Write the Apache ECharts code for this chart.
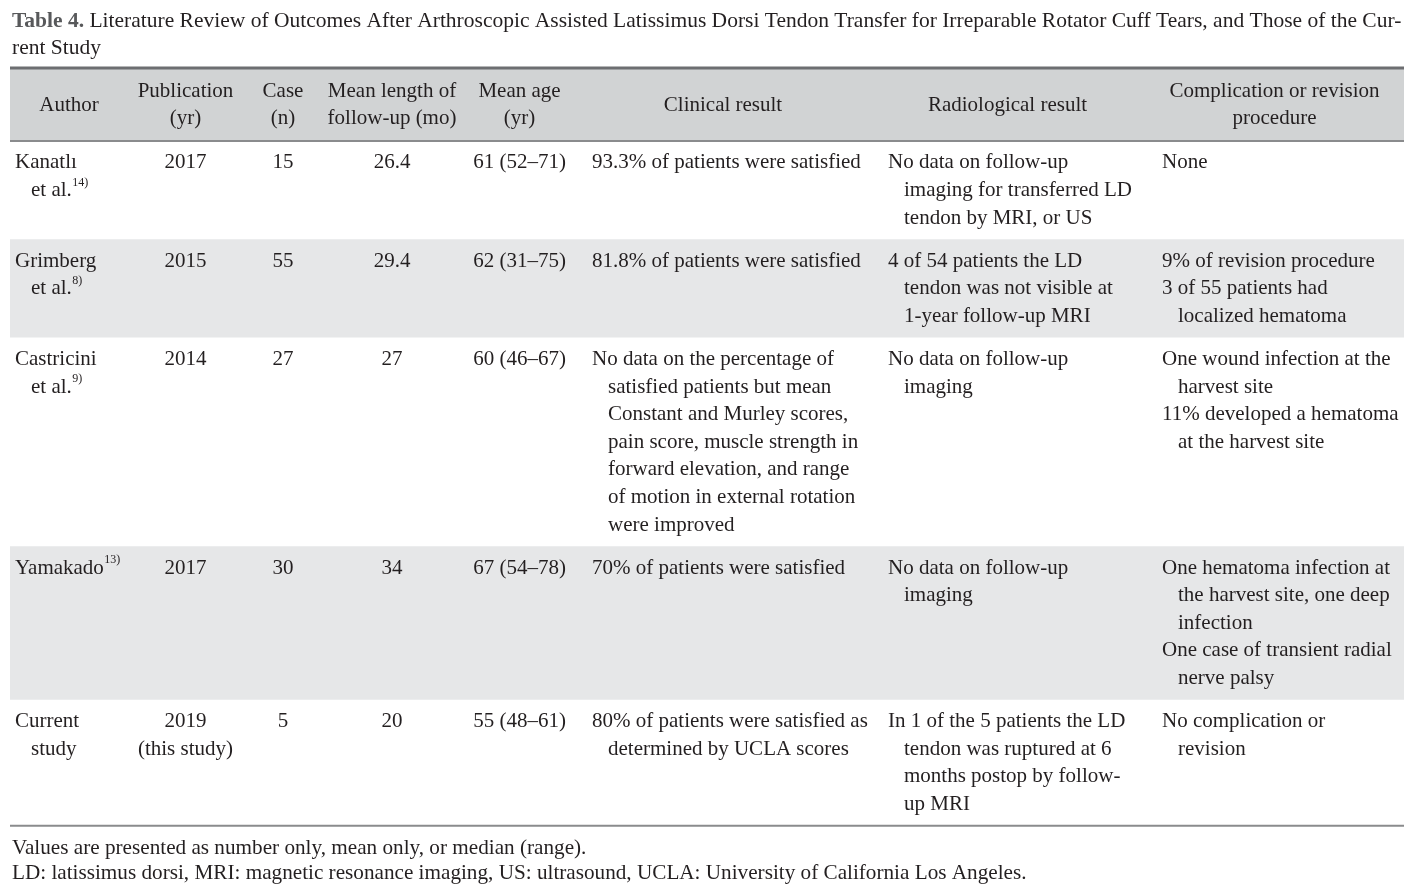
<!DOCTYPE html>
<html><head><meta charset="utf-8">
<script src="https://cdn.jsdelivr.net/npm/echarts@6/dist/echarts.min.js"></script>
<style>html,body{margin:0;padding:0;background:#fff}#c{width:1424px;height:893px}</style>
</head><body><div id="c"></div>
<script>
// ---------------- DATA ----------------
const titleBold = 'Table 4.';
const titleLines = [
  ' Literature Review of Outcomes After Arthroscopic Assisted Latissimus Dorsi Tendon Transfer for Irreparable Rotator Cuff Tears, and Those of the Cur-',
  'rent Study'
];
const headers = ['Author', 'Publication\n(yr)', 'Case\n(n)', 'Mean length of\nfollow-up (mo)', 'Mean age\n(yr)', 'Clinical result', 'Radiological result', 'Complication or revision\nprocedure'];
const authors = ['Kanatlı\net al.', 'Grimberg\net al.', 'Castricini\net al.', 'Yamakado', 'Current\nstudy'];
const refs = ['14)', '8)', '9)', '13)', ''];
const years = ['2017', '2015', '2014', '2017', '2019\n(this study)'];
const cases = ['15', '55', '27', '30', '5'];
const followUp = ['26.4', '29.4', '27', '34', '20'];
const meanAge = ['61 (52–71)', '62 (31–75)', '60 (46–67)', '67 (54–78)', '55 (48–61)'];
const clinical = [
  ['93.3% of patients were satisfied'],
  ['81.8% of patients were satisfied'],
  ['No data on the percentage of\nsatisfied patients but mean\nConstant and Murley scores,\npain score, muscle strength in\nforward elevation, and range\nof motion in external rotation\nwere improved'],
  ['70% of patients were satisfied'],
  ['80% of patients were satisfied as\ndetermined by UCLA scores']
];
const radiological = [
  ['No data on follow-up\nimaging for transferred LD\ntendon by MRI, or US'],
  ['4 of 54 patients the LD\ntendon was not visible at\n1-year follow-up MRI'],
  ['No data on follow-up\nimaging'],
  ['No data on follow-up\nimaging'],
  ['In 1 of the 5 patients the LD\ntendon was ruptured at 6\nmonths postop by follow-\nup MRI']
];
const complications = [
  ['None'],
  ['9% of revision procedure', '3 of 55 patients had\nlocalized hematoma'],
  ['One wound infection at the\nharvest site', '11% developed a hematoma\nat the harvest site'],
  ['One hematoma infection at\nthe harvest site, one deep\ninfection', 'One case of transient radial\nnerve palsy'],
  ['No complication or\nrevision']
];
const notes = [
  'Values are presented as number only, mean only, or median (range).',
  'LD: latissimus dorsi, MRI: magnetic resonance imaging, US: ultrasound, UCLA: University of California Los Angeles.'
];

// ---------------- LAYOUT / STYLE ----------------
const FONT = '"Liberation Serif", "Times New Roman", serif';
const FS = 21;
const TITLE_FS = 21.5;
const NOTE_FS = 21.2;
const TXT = '#231f20';
const colEdges = [12, 126, 245, 321, 463, 576, 870, 1145, 1404];
const tableLeft = 10, tableRight = 1404;
const textLeft = [15, null, null, null, null, 592, 888, 1162];
const INDENT = 16;
const LINE_H = 27.6;
const ROW_PAD = 15.5;
const FIRST_OFF = 21.8;
const headTop = 68, headBottom = 141;

const measureCtx = document.createElement('canvas').getContext('2d');
function textW(t, size) { measureCtx.font = size + 'px ' + FONT; return measureCtx.measureText(t).width; }

function cellLines(r) {
  const cols = [];
  const aLines = authors[r].split('\n');
  cols.push(aLines.map((t, i) => ({ text: t, dx: i ? INDENT : 0, align: 'left', sup: i === aLines.length - 1 ? refs[r] : '' })));
  [years, cases, followUp, meanAge].forEach(arr => {
    cols.push(String(arr[r]).split('\n').map(t => ({ text: t, dx: 0, align: 'center' })));
  });
  [clinical, radiological, complications].forEach(arr => {
    const out = [];
    arr[r].forEach(p => p.split('\n').forEach((t, i) => out.push({ text: t, dx: i ? INDENT : 0, align: 'left' })));
    cols.push(out);
  });
  return cols;
}
const rowCells = authors.map((_, r) => cellLines(r));
const rowLineCounts = rowCells.map(c => Math.max(...c.map(x => x.length)));
const rowTops = [];
{ let y = headBottom; rowLineCounts.forEach(n => { rowTops.push(y); y += n * LINE_H + ROW_PAD; }); rowTops.push(y); }

function renderHeader(params, api) {
  const children = [];
  children.push({ type: 'rect', shape: { x: tableLeft, y: headTop, width: tableRight - tableLeft, height: headBottom - headTop }, style: { fill: '#d1d3d4' } });
  children.push({ type: 'rect', shape: { x: tableLeft, y: headTop - 1.5, width: tableRight - tableLeft, height: 3 }, style: { fill: '#6d6e71' } });
  children.push({ type: 'rect', shape: { x: tableLeft, y: headBottom - 1, width: tableRight - tableLeft, height: 2 }, style: { fill: '#8a8b8d' } });
  headers.forEach((h, c) => {
    const cx = (colEdges[c] + colEdges[c + 1]) / 2;
    const lines = h.split('\n');
    const mid = (headTop + headBottom) / 2 + 0.5;
    lines.forEach((t, i) => {
      const y = mid + (i - (lines.length - 1) / 2) * LINE_H;
      children.push({ type: 'text', x: cx, y: y, style: { text: t, fontSize: FS, fontFamily: FONT, fill: TXT, align: 'center', verticalAlign: 'middle' } });
    });
  });
  return { type: 'group', children };
}

function renderRow(params, api) {
  const r = params.dataIndex;
  const top = rowTops[r], bottom = rowTops[r + 1];
  const children = [];
  if (r % 2 === 1) children.push({ type: 'rect', shape: { x: tableLeft, y: top, width: tableRight - tableLeft, height: bottom - top }, style: { fill: '#e6e7e8' } });
  rowCells[r].forEach((lines, c) => {
    lines.forEach((ln, i) => {
      const y = top + FIRST_OFF + i * LINE_H;
      const x = ln.align === 'center' ? (colEdges[c] + colEdges[c + 1]) / 2 : textLeft[c] + ln.dx;
      children.push({ type: 'text', x, y, style: { text: ln.text, fontSize: FS, fontFamily: FONT, fill: TXT, align: ln.align, verticalAlign: 'middle' } });
      if (ln.sup) {
        children.push({ type: 'text', x: x + textW(ln.text, FS) + 0.5, y: y - 8, style: { text: ln.sup, fontSize: 12, fontFamily: FONT, fill: TXT, align: 'left', verticalAlign: 'middle' } });
      }
    });
  });
  if (r === authors.length - 1) children.push({ type: 'rect', shape: { x: tableLeft, y: bottom - 1, width: tableRight - tableLeft, height: 2 }, style: { fill: '#8a8b8d' } });
  return { type: 'group', children };
}

const chart = echarts.init(document.getElementById('c'), null, { renderer: 'canvas' });
const tableBottom = rowTops[rowTops.length - 1];
chart.setOption({
  animation: false,
  backgroundColor: '#ffffff',
  graphic: [
    { type: 'text', left: 12, top: 10, style: { text: '{b|' + titleBold + '}{n|' + titleLines[0] + '}', rich: { b: { fontSize: TITLE_FS, fontWeight: 'bold', fontFamily: FONT, fill: '#58595b' }, n: { fontSize: TITLE_FS, fontFamily: FONT, fill: TXT } } } },
    { type: 'text', left: 12, top: 37, style: { text: titleLines[1], fontSize: TITLE_FS, fontFamily: FONT, fill: TXT } },
    { type: 'text', left: 12, top: tableBottom + 12, style: { text: notes[0], fontSize: NOTE_FS, fontFamily: FONT, fill: TXT } },
    { type: 'text', left: 12, top: tableBottom + 37, style: { text: notes[1], fontSize: NOTE_FS, fontFamily: FONT, fill: TXT } }
  ],
  series: [
    { type: 'custom', coordinateSystem: 'none', renderItem: renderHeader, data: [[0]], silent: true },
    { type: 'custom', coordinateSystem: 'none', renderItem: renderRow, data: authors.map((_, i) => [i]), silent: true }
  ]
});
</script></body></html>
